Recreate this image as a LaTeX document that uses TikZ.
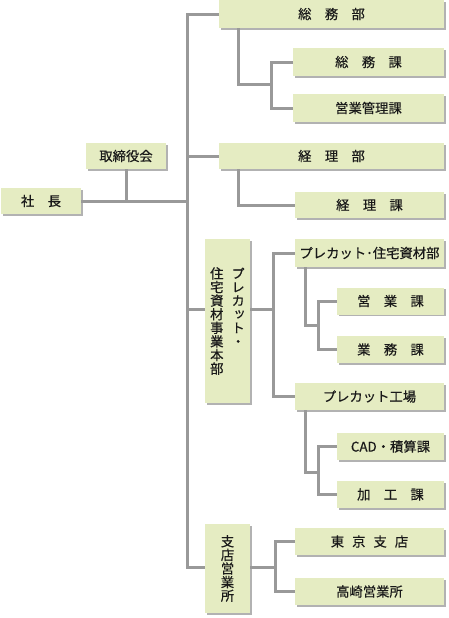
\documentclass[tikz,border=0pt]{standalone}
\usepackage{fontspec}
\newfontfamily\jpfont[FakeBold=0.5]{Noto Sans CJK JP}
\usetikzlibrary{shadows}
\definecolor{boxfill}{HTML}{E5ECC2}
\definecolor{linegray}{HTML}{999999}
\newcommand\tatekana{\addfontfeature{RawFeature=+vert}}
\newcommand\tgap{\hspace{0.6em}}
\tikzset{
  orgbox/.style={rectangle, fill=boxfill, inner sep=0pt, text=black!90,
    font=\jpfont\fontsize{10}{10.2}\selectfont,
    drop shadow={shadow xshift=1.2pt, shadow yshift=-1.2pt, fill=black, opacity=0.3}},
  topbox/.style={orgbox, minimum width=60pt, minimum height=19.5pt},
  bubox/.style={orgbox, minimum width=168.75pt, minimum height=20.25pt},
  subbox/.style={orgbox, minimum width=111.75pt, minimum height=20.25pt},
  kabox/.style={orgbox, minimum width=80.25pt, minimum height=20.25pt},
  tatebox/.style={orgbox, minimum width=33.75pt},
  conn/.style={draw=linegray, line width=2.25pt, line join=miter}
}
\begin{document}
\begin{tikzpicture}[x=0.75pt, y=-0.75pt]
    \useasboundingbox (0,0) rectangle (449,618);

    % Top: president and board
    \node[topbox] (shacho) at (41,201) {社　長};
    \node[topbox] (torishimari) at (126,156) {取締役会};

    % General affairs
    \node[bubox, minimum height=21pt] (somubu) at (331.5,14) {総　務　部};
    \node[orgbox, minimum width=113.25pt, minimum height=21pt] (somuka) at (368.5,62) {総　務　課};
    \node[orgbox, minimum width=113.25pt, minimum height=21pt] (eigyokanri) at (368.5,108) {営業管理課};

    % Accounting
    \node[bubox, minimum height=19.5pt] (keiribu) at (331.5,156) {経　理　部};
    \node[subbox, minimum height=19.5pt] (keirika) at (369.5,205) {経　理　課};

    % Precut / housing materials division
    \node[tatebox, minimum height=123pt] (honbu) at (227.5,321)
      {\parbox[t]{1em}{\centering 住\\宅\\資\\材\\事\\業\\本\\部}\tgap\parbox[t]{1em}{\centering\tatekana プ\\レ\\カ\\ッ\\ト\\・}};
    \node[subbox, minimum height=21pt] (precutbu) at (369.5,253) {プレカット･住宅資材部};
    \node[kabox] (eigyoka) at (390.5,301) {営　業　課};
    \node[kabox] (gyomuka) at (390.5,349.5) {業　務　課};
    \node[subbox] (kojo) at (369.5,396.5) {プレカット工場};
    \node[kabox] (cad) at (390.5,446.5) {CAD・積算課};
    \node[kabox] (kako) at (390.5,494.5) {加　工　課};

    % Branches
    \node[tatebox, minimum height=66.75pt] (shiten) at (227.5,568.5)
      {\parbox[t]{1em}{\centering 支\\店\\営\\業\\所}};
    \node[subbox] (tokyo) at (369.5,541.5) {東\tgap 京\tgap 支\tgap 店};
    \node[subbox] (takasaki) at (369.5,591.5) {高崎営業所};

    % junctions
    \coordinate (tb) at (187,567);
    \coordinate (hbl) at (187,309);
    \coordinate (sd) at (238,0);
    \coordinate (sj) at (271,84);
    \coordinate (hj) at (273,309);
    \coordinate (pd) at (305,0);
    \coordinate (pj) at (318,325);
    \coordinate (kj) at (318,472);
    \coordinate (tj) at (275,567);

    % trunk
    \draw[conn] (somubu.west) -| (tb) -- (shiten.west |- tb);
    \draw[conn] (shacho.east) -- (shacho.east -| tb);
    \draw[conn] (torishimari.south) -- (torishimari.south |- shacho.east);
    \draw[conn] (keiribu.west) -- (keiribu.west -| tb);
    \draw[conn] (hbl) -- (honbu.west |- hbl);

    % departments
    \draw[conn] (somubu.south -| sd) |- (sj);
    \draw[conn] (somuka.west) -| (sj) |- (eigyokanri.west);
    \draw[conn] (keiribu.south -| sd) |- (keirika.west);
    \draw[conn] (honbu.east |- hj) -- (hj);
    \draw[conn] (precutbu.west) -| (hj) |- (kojo.west);
    \draw[conn] (precutbu.south -| pd) |- (pj);
    \draw[conn] (eigyoka.west) -| (pj) |- (gyomuka.west);
    \draw[conn] (kojo.south -| pd) |- (kj);
    \draw[conn] (cad.west) -| (kj) |- (kako.west);
    \draw[conn] (shiten.east |- tj) -- (tj);
    \draw[conn] (tokyo.west) -| (tj) |- (takasaki.west);
\end{tikzpicture}
\end{document}
